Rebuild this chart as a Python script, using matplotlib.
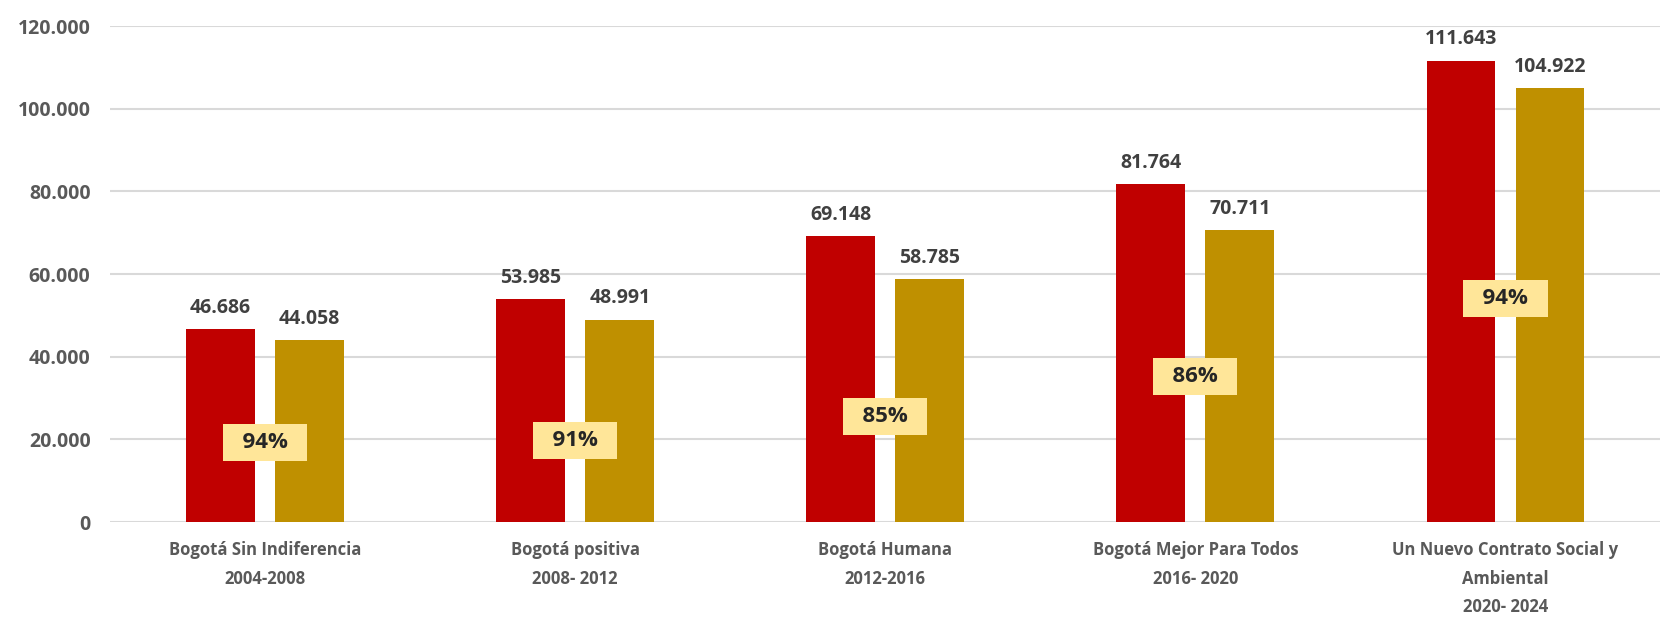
import numpy as np
import matplotlib.pyplot as plt
from matplotlib.ticker import FuncFormatter

plt.rcParams['font.family'] = ['Open Sans', 'DejaVu Sans']

# datos
categorias = ['Bogotá Sin Indiferencia\n2004-2008',
              'Bogotá positiva\n2008- 2012',
              'Bogotá Humana\n2012-2016',
              'Bogotá Mejor Para Todos\n2016- 2020',
              'Un Nuevo Contrato Social y\nAmbiental\n2020- 2024']
serie_roja = [46686, 53985, 69148, 81764, 111643]
serie_dorada = [44058, 48991, 58785, 70711, 104922]
# altura donde va la caja del porcentaje (solo posicion)
y_pct = [19200, 19700, 25600, 35100, 54100]

rojo = '#C00000'
dorado = '#BF9000'
gris = '#595959'

fig = plt.figure(figsize=(16.6, 6.2), dpi=100)
ax = fig.add_axes([0.0663, 0.158, 0.934, 0.8])

x = np.arange(len(categorias))
w = 0.222
off = 0.1435
b1 = ax.bar(x - off, serie_roja, w, color=rojo, zorder=3)
b2 = ax.bar(x + off, serie_dorada, w, color=dorado, zorder=3)

def miles(v, pos=None):
    return f'{int(v):,}'.replace(',', '.')

for bars in (b1, b2):
    for r in bars:
        ax.annotate(miles(r.get_height()), (r.get_x() + r.get_width() / 2, r.get_height()),
                    xytext=(0, 8), textcoords='offset points', ha='center', va='bottom',
                    fontsize=14, color='#404040', fontweight='bold')

for i in range(len(categorias)):
    pct = round(serie_dorada[i] / serie_roja[i] * 100)
    ax.text(x[i], y_pct[i], f'  {pct}%  ', ha='center', va='center', fontsize=16,
            fontweight='bold', color='#262626', zorder=5,
            bbox=dict(boxstyle='square,pad=0.36', fc='#FFE699', ec='none'))

ax.set_xlim(-0.5, 4.5)
ax.set_ylim(0, 120000)
ax.set_yticks(np.arange(0, 120001, 20000))
ax.yaxis.set_major_formatter(FuncFormatter(miles))
ax.set_xticks(x)
ax.set_xticklabels(categorias, fontsize=12, color=gris, fontweight='bold', linespacing=1.72)
ax.tick_params(axis='y', labelsize=14, colors=gris, length=0, pad=14)
ax.tick_params(axis='x', length=0, pad=14)
for t in ax.get_yticklabels():
    t.set_fontweight('bold')

ax.grid(axis='y', color='#D9D9D9', linewidth=1.5, zorder=0)
for s in ax.spines.values():
    s.set_visible(False)

plt.savefig('out.png', dpi=100)
